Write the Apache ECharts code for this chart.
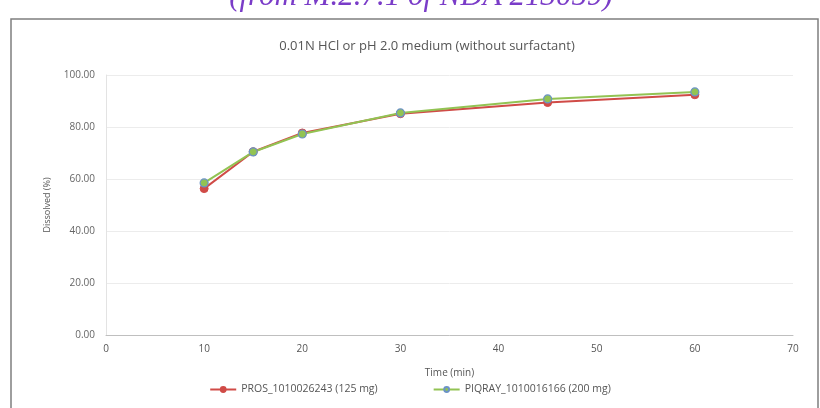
<!DOCTYPE html>
<html>
<head>
<meta charset="utf-8">
<script src="https://cdn.jsdelivr.net/npm/echarts@6/dist/echarts.min.js"></script>
<style>
  html, body { margin: 0; padding: 0; background: #fff; }
  #chart { width: 820px; height: 408px; }
</style>
</head>
<body>
<div id="chart"></div>
<script>
// time points (min)
const timePoints = [10, 15, 20, 30, 45, 60];
// dissolved (%)
const prosValues = [56.3, 70.5, 77.7, 85.1, 89.4, 92.4];
const piqrayValues = [58.5, 70.4, 77.3, 85.4, 90.8, 93.5];
const seriesNames = ["PROS_1010026243 (125 mg)", "PIQRAY_1010016166 (200 mg)"];

const chart = echarts.init(document.getElementById("chart"));

const toPairs = (vals) => timePoints.map((t, i) => [t, vals[i]]);

chart.setOption({
  animation: false,
  textStyle: { fontFamily: "Open Sans" },
  title: {
    text: "0.01N HCl or pH 2.0 medium (without surfactant)",
    left: 422,
    textAlign: "center",
    top: 35,
    textStyle: { fontSize: 13, fontWeight: "normal", color: "#555" },
  },
  graphic: [
    {
      type: "text",
      x: 421,
      y: -19,
      style: {
        text: "(from M.2.7.1 of NDA 213059)",
        font: "italic 31px 'Liberation Serif'",
        fill: "#7a3cc8",
        textAlign: "center",
      },
    },
    {
      type: "rect",
      shape: { x: 11, y: 19, width: 807, height: 400 },
      style: { fill: "none", stroke: "#7f7f7f", lineWidth: 1.5 },
      silent: true,
    },
  ],
  legend: {
    bottom: 8,
    left: "center",
    itemGap: 55,
    itemWidth: 26,
    itemHeight: 6,
    textStyle: { fontSize: 10.5, color: "#555" },
    data: seriesNames,
  },
  grid: { left: 106, right: 27, top: 75, bottom: 73 },
  xAxis: {
    type: "value",
    min: 0,
    max: 70,
    interval: 10,
    name: "Time (min)",
    nameLocation: "middle",
    nameGap: 33,
    nameTextStyle: { fontSize: 10, color: "#555" },
    axisLine: { lineStyle: { color: "#bfbfbf", width: 1 } },
    axisTick: { show: false },
    axisLabel: { fontSize: 10, color: "#555", margin: 9 },
    splitLine: { show: false },
  },
  yAxis: {
    type: "value",
    min: 0,
    max: 100,
    interval: 20,
    name: "Dissolved (%)",
    nameLocation: "middle",
    nameGap: 54,
    nameTextStyle: { fontSize: 9, color: "#555" },
    axisLine: { show: true, lineStyle: { color: "#e3e3e3" } },
    axisTick: { show: false },
    axisLabel: {
      fontSize: 10,
      color: "#666",
      margin: 11,
      formatter: (v) => v.toFixed(2),
    },
    splitLine: { lineStyle: { color: "#ececec" } },
  },
  series: [
    {
      name: seriesNames[0],
      type: "line",
      data: toPairs(prosValues),
      symbol: "circle",
      symbolSize: 8,
      lineStyle: { color: "#d04b47", width: 2 },
      itemStyle: { color: "#d04b47", borderColor: "#d04b47", borderWidth: 1 },
    },
    {
      name: seriesNames[1],
      type: "line",
      data: toPairs(piqrayValues),
      symbol: "circle",
      symbolSize: 8,
      lineStyle: { color: "#92c353", width: 2 },
      itemStyle: { color: "#92c353", borderColor: "#6b93c6", borderWidth: 1.2 },
    },
  ],
});
</script>
</body>
</html>
